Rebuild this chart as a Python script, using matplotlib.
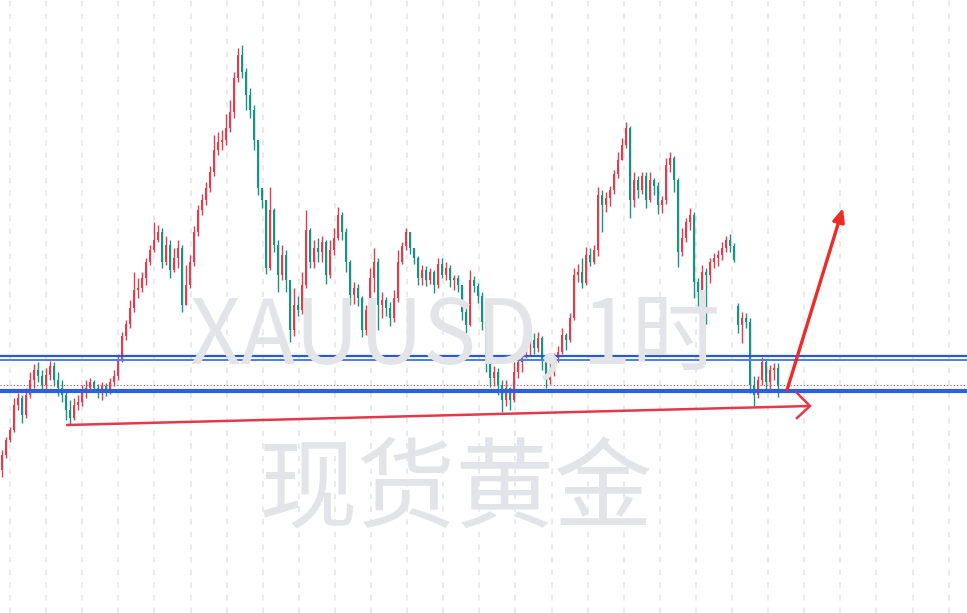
import matplotlib
matplotlib.use("Agg")
import matplotlib.pyplot as plt
import numpy as np

# XAUUSD 1h candles
opens = [2530, 2545, 2560, 2570, 2595, 2602, 2585, 2605, 2620, 2630,
         2624, 2615, 2625, 2634, 2620, 2612, 2605, 2590, 2582, 2595,
         2598, 2608, 2612, 2618, 2612, 2608, 2614, 2610, 2618, 2624,
         2640, 2664, 2676, 2692, 2710, 2712, 2722, 2738, 2750, 2760,
         2768, 2738, 2755, 2730, 2742, 2752, 2695, 2715, 2738, 2768,
         2790, 2800, 2812, 2828, 2850, 2858, 2860, 2872, 2888, 2922,
         2945, 2928, 2905, 2890, 2860, 2812, 2800, 2732, 2790, 2755,
         2725, 2745, 2720, 2670, 2695, 2690, 2715, 2770, 2738, 2752,
         2748, 2758, 2725, 2750, 2762, 2785, 2768, 2738, 2705, 2712,
         2702, 2670, 2690, 2722, 2738, 2695, 2700, 2692, 2682, 2702,
         2738, 2754, 2768, 2752, 2742, 2722, 2730, 2720, 2728, 2715,
         2736, 2725, 2732, 2720, 2722, 2715, 2688, 2675, 2720, 2714,
         2704, 2678, 2640, 2622, 2628, 2615, 2600, 2612, 2600, 2628,
         2638, 2650, 2655, 2660, 2652, 2662, 2640, 2620, 2630, 2642,
         2648, 2665, 2660, 2682, 2725, 2728, 2717, 2745, 2738, 2750,
         2805, 2795, 2802, 2810, 2826, 2840, 2855, 2872, 2800, 2820,
         2810, 2824, 2800, 2820, 2814, 2795, 2800, 2835, 2842, 2820,
         2748, 2762, 2778, 2785, 2718, 2708, 2728, 2725, 2738, 2742,
         2745, 2752, 2760, 2754, 2694, 2675, 2682, 2678, 2615, 2605,
         2620, 2638, 2618, 2630, 2632]
highs = [2550, 2563, 2573, 2602, 2607, 2605, 2612, 2628, 2636, 2638,
         2630, 2632, 2639, 2638, 2628, 2620, 2610, 2600, 2602, 2605,
         2615, 2620, 2622, 2620, 2616, 2618, 2617, 2622, 2630, 2646,
         2668, 2680, 2700, 2728, 2722, 2728, 2742, 2755, 2778, 2775,
         2772, 2764, 2760, 2752, 2760, 2755, 2735, 2745, 2774, 2795,
         2806, 2818, 2834, 2865, 2868, 2870, 2886, 2900, 2928, 2952,
         2955, 2932, 2912, 2895, 2860, 2812, 2800, 2813, 2792, 2760,
         2755, 2750, 2715, 2712, 2704, 2728, 2790, 2772, 2760, 2762,
         2764, 2760, 2760, 2772, 2793, 2788, 2772, 2740, 2718, 2716,
         2704, 2695, 2732, 2752, 2742, 2708, 2703, 2698, 2710, 2750,
         2758, 2772, 2768, 2752, 2744, 2735, 2734, 2732, 2730, 2742,
         2742, 2738, 2735, 2725, 2725, 2715, 2694, 2730, 2724, 2717,
         2708, 2682, 2645, 2634, 2632, 2620, 2620, 2613, 2638, 2644,
         2654, 2662, 2664, 2667, 2668, 2664, 2642, 2640, 2647, 2654,
         2672, 2667, 2687, 2732, 2736, 2742, 2753, 2752, 2755, 2813,
         2810, 2808, 2814, 2830, 2848, 2862, 2878, 2874, 2828, 2824,
         2828, 2828, 2828, 2822, 2818, 2804, 2842, 2848, 2844, 2822,
         2772, 2782, 2792, 2788, 2722, 2735, 2732, 2742, 2747, 2750,
         2758, 2764, 2766, 2757, 2697, 2688, 2687, 2682, 2624, 2624,
         2643, 2640, 2635, 2637, 2637]
lows = [2523, 2542, 2558, 2568, 2590, 2577, 2582, 2602, 2612, 2618,
        2608, 2608, 2620, 2614, 2604, 2598, 2580, 2575, 2580, 2590,
        2594, 2602, 2608, 2608, 2602, 2600, 2604, 2606, 2614, 2620,
        2638, 2660, 2672, 2688, 2702, 2708, 2715, 2735, 2748, 2758,
        2732, 2735, 2722, 2728, 2732, 2688, 2695, 2712, 2734, 2764,
        2785, 2795, 2808, 2824, 2845, 2850, 2855, 2868, 2882, 2918,
        2922, 2890, 2882, 2850, 2805, 2792, 2726, 2730, 2748, 2708,
        2720, 2708, 2658, 2664, 2684, 2686, 2712, 2732, 2732, 2738,
        2738, 2716, 2722, 2745, 2760, 2760, 2728, 2695, 2696, 2694,
        2663, 2665, 2688, 2708, 2670, 2682, 2684, 2674, 2678, 2698,
        2736, 2750, 2746, 2736, 2715, 2715, 2714, 2716, 2707, 2712,
        2722, 2720, 2713, 2710, 2708, 2680, 2667, 2674, 2708, 2697,
        2670, 2628, 2613, 2614, 2605, 2588, 2594, 2590, 2598, 2622,
        2628, 2642, 2645, 2646, 2648, 2630, 2612, 2616, 2624, 2638,
        2646, 2650, 2658, 2680, 2718, 2712, 2715, 2734, 2736, 2744,
        2768, 2788, 2794, 2806, 2822, 2840, 2852, 2782, 2793, 2802,
        2806, 2792, 2798, 2805, 2786, 2787, 2796, 2828, 2808, 2733,
        2744, 2758, 2770, 2702, 2694, 2706, 2676, 2717, 2732, 2734,
        2740, 2748, 2748, 2738, 2667, 2657, 2672, 2607, 2594, 2602,
        2615, 2610, 2610, 2620, 2603]
closes = [2545, 2560, 2570, 2595, 2602, 2585, 2605, 2620, 2630, 2624,
          2615, 2625, 2634, 2620, 2612, 2605, 2590, 2582, 2595, 2598,
          2608, 2612, 2618, 2612, 2608, 2614, 2610, 2618, 2624, 2640,
          2664, 2676, 2692, 2710, 2712, 2722, 2738, 2750, 2760, 2768,
          2738, 2755, 2730, 2742, 2752, 2695, 2715, 2738, 2768, 2790,
          2800, 2812, 2828, 2850, 2858, 2860, 2872, 2888, 2922, 2945,
          2928, 2905, 2890, 2860, 2812, 2800, 2732, 2790, 2755, 2725,
          2745, 2720, 2670, 2695, 2690, 2715, 2770, 2738, 2752, 2748,
          2758, 2725, 2750, 2762, 2785, 2768, 2738, 2705, 2712, 2702,
          2670, 2690, 2722, 2738, 2695, 2700, 2692, 2682, 2702, 2738,
          2754, 2768, 2752, 2742, 2722, 2730, 2720, 2728, 2715, 2736,
          2725, 2732, 2720, 2722, 2715, 2688, 2675, 2720, 2714, 2704,
          2678, 2640, 2622, 2628, 2615, 2600, 2612, 2600, 2628, 2638,
          2650, 2655, 2660, 2652, 2662, 2640, 2620, 2630, 2642, 2648,
          2665, 2660, 2682, 2725, 2728, 2717, 2745, 2738, 2750, 2805,
          2795, 2802, 2810, 2826, 2840, 2855, 2872, 2800, 2820, 2810,
          2824, 2800, 2820, 2814, 2795, 2800, 2835, 2842, 2820, 2748,
          2762, 2778, 2785, 2718, 2708, 2728, 2725, 2738, 2742, 2745,
          2752, 2760, 2754, 2740, 2675, 2682, 2678, 2615, 2605, 2620,
          2638, 2618, 2630, 2632, 2614]

# drawn levels / annotations (price units, x in bar index)
resist_levels = [2644.5, 2640.0]
support_level = 2609.0
last_price = 2615.0
trend_x = [16.25, 202.0]
trend_y = [2575.0, 2594.0]
chevron_x = [198.75, 202.0, 198.75]
chevron_y = [2607.0, 2594.0, 2582.0]
arrow_start = (196.25, 2610.0)
arrow_end = (210.25, 2792.0)

UP = '#e53b4b'
DOWN = '#13967f'

fig = plt.figure(figsize=(9.67, 6.13), dpi=100)
ax = fig.add_axes([0, 0, 1, 1])
ax.set_xlim(-0.5, 241.25)
ax.set_ylim(2387, 3000)
for s in ax.spines.values():
    s.set_visible(False)

# watermark
wm_font = ['Noto Sans CJK SC', 'DejaVu Sans']
fig.text(455 / 967, 1 - 338 / 613, 'XAUUSD, 1时', fontsize=64, color='#e3e4e8',
         ha='center', va='center', family=wm_font, zorder=0)
fig.text(456 / 967, 1 - 492 / 613, '现货黄金', fontsize=71, color='#e3e4e8',
         ha='center', va='center', family=wm_font, zorder=0)
ax.patch.set_alpha(0)

# vertical dashed grid
ax.set_xticks(np.arange(2, 242, 9.025))
ax.set_yticks([])
ax.tick_params(length=0, labelbottom=False)
ax.grid(axis='x', color='#e8e8ec', lw=1.3, dashes=(3, 4))
ax.set_axisbelow(True)

o = np.array(opens, float)
h = np.array(highs, float)
l = np.array(lows, float)
c = np.array(closes, float)
idx = np.arange(len(c))
cols = [UP if cc >= oo else DOWN for oo, cc in zip(o, c)]
ax.vlines(idx, l, h, colors=cols, lw=1.0, zorder=3)
body = np.maximum(np.abs(c - o), 1.0)
ax.bar(idx, body, bottom=np.minimum(o, c), width=0.55, color=cols, lw=0, zorder=3)

# horizontal levels
ax.axhline(resist_levels[0], color='#2a58d4', lw=1.6, zorder=5)
ax.axhline(resist_levels[1], color='#4d7de2', lw=1.4, zorder=5)
ax.axhline(support_level, color='#2d60dc', lw=3.0, zorder=5)
ax.axhline(last_price, color='#c94a4a', lw=0.8, ls=(0, (1, 2)), zorder=4)

# red trend line with open chevron
ax.plot(trend_x, trend_y, color='#e3394a', lw=1.8, solid_capstyle='round', zorder=6)
ax.plot(chevron_x, chevron_y, color='#e3394a', lw=1.8, solid_joinstyle='miter', zorder=6)

# steep arrow up
ax.annotate('', xy=arrow_end, xytext=arrow_start,
            arrowprops=dict(arrowstyle='-|>,head_length=0.8,head_width=0.35',
                            color='#ee2b25', lw=2.4, shrinkA=0, shrinkB=0),
            zorder=7)

fig.savefig('out.png', dpi=100)
